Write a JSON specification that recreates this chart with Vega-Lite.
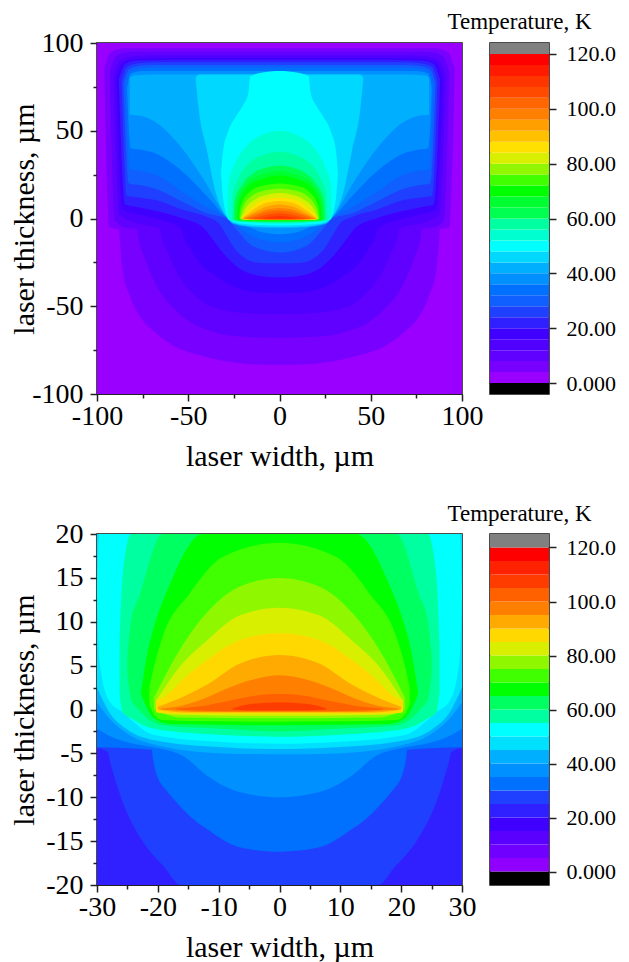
{"$schema":"https://vega.github.io/schema/vega-lite/v6.json","background":"white","padding":{"left":8,"top":10,"right":5,"bottom":5},"bounds":"flush","columns":2,"spacing":{"row":140,"column":28},"resolve":{"scale":{"color":"independent"}},
"config":{"view":{"stroke":"#111","strokeWidth":1.5},"axis":{"labelFont":"Liberation Serif","titleFont":"Liberation Serif","labelColor":"#000","titleColor":"#000","titleFontWeight":"normal","tickColor":"#222","domainColor":"#222","grid":false,"zindex":1}},
"datasets":{"a":[
{"l":0,"x":-100,"y":100,"v":-100},{"l":0,"x":100,"y":100,"v":-100},
{"l":4,"x":-96,"y":85,"v":85},{"l":4,"x":-93,"y":94,"v":-5},{"l":4,"x":-88,"y":96.5,"v":-6},{"l":4,"x":-87.5,"y":96.6,"v":-12},{"l":4,"x":-86,"y":97,"v":-29},{"l":4,"x":-82,"y":97,"v":-44},{"l":4,"x":-77,"y":97,"v":-55},{"l":4,"x":-68,"y":97,"v":-65},{"l":4,"x":-58,"y":97,"v":-72.6},{"l":4,"x":-45,"y":97,"v":-77.5},{"l":4,"x":-31,"y":97,"v":-81},{"l":4,"x":-15,"y":97,"v":-83},{"l":4,"x":0,"y":97,"v":-83.4},{"l":4,"x":15,"y":97,"v":-83},{"l":4,"x":31,"y":97,"v":-81},{"l":4,"x":45,"y":97,"v":-77.5},{"l":4,"x":58,"y":97,"v":-72.6},{"l":4,"x":68,"y":97,"v":-65},{"l":4,"x":77,"y":97,"v":-55},{"l":4,"x":82,"y":97,"v":-44},{"l":4,"x":86,"y":97,"v":-29},{"l":4,"x":87.5,"y":96.6,"v":-12},{"l":4,"x":88,"y":96.5,"v":-6},{"l":4,"x":93,"y":94,"v":-5},{"l":4,"x":96,"y":85,"v":85},
{"l":8,"x":-93,"y":83,"v":83},{"l":8,"x":-90,"y":92,"v":-1},{"l":8,"x":-85,"y":94.5,"v":-5},{"l":8,"x":-78,"y":95,"v":-6},{"l":8,"x":-77.5,"y":95,"v":-10},{"l":8,"x":-74,"y":95,"v":-22},{"l":8,"x":-67.6,"y":95,"v":-38},{"l":8,"x":-59,"y":95,"v":-50},{"l":8,"x":-49,"y":95,"v":-59},{"l":8,"x":-38,"y":95,"v":-64},{"l":8,"x":-25.6,"y":95,"v":-67},{"l":8,"x":0,"y":95,"v":-68},{"l":8,"x":25.6,"y":95,"v":-67},{"l":8,"x":38,"y":95,"v":-64},{"l":8,"x":49,"y":95,"v":-59},{"l":8,"x":59,"y":95,"v":-50},{"l":8,"x":67.6,"y":95,"v":-38},{"l":8,"x":74,"y":95,"v":-22},{"l":8,"x":77.5,"y":95,"v":-10},{"l":8,"x":78,"y":95,"v":-6},{"l":8,"x":85,"y":94.5,"v":-5},{"l":8,"x":90,"y":92,"v":-1},{"l":8,"x":93,"y":83,"v":83},
{"l":12,"x":-91,"y":81,"v":81},{"l":12,"x":-87.5,"y":90,"v":2},{"l":12,"x":-80,"y":92.5,"v":-2},{"l":12,"x":-65.5,"y":93,"v":-6},{"l":12,"x":-65,"y":93,"v":-9},{"l":12,"x":-61,"y":93,"v":-20},{"l":12,"x":-55,"y":93,"v":-33},{"l":12,"x":-47,"y":93,"v":-43},{"l":12,"x":-38,"y":93,"v":-50},{"l":12,"x":-18,"y":93,"v":-54},{"l":12,"x":0,"y":93,"v":-54.5},{"l":12,"x":18,"y":93,"v":-54},{"l":12,"x":38,"y":93,"v":-50},{"l":12,"x":47,"y":93,"v":-43},{"l":12,"x":55,"y":93,"v":-33},{"l":12,"x":61,"y":93,"v":-20},{"l":12,"x":65,"y":93,"v":-9},{"l":12,"x":65.5,"y":93,"v":-6},{"l":12,"x":80,"y":92.5,"v":-2},{"l":12,"x":87.5,"y":90,"v":2},{"l":12,"x":91,"y":81,"v":81},
{"l":16,"x":-89.5,"y":80,"v":80},{"l":16,"x":-86,"y":89,"v":5},{"l":16,"x":-78,"y":91,"v":2.5},{"l":16,"x":-53.5,"y":91.5,"v":-6},{"l":16,"x":-53,"y":91.5,"v":-9},{"l":16,"x":-49,"y":91.5,"v":-17},{"l":16,"x":-44,"y":91.5,"v":-25},{"l":16,"x":-36,"y":91.5,"v":-32},{"l":16,"x":-27,"y":91.5,"v":-38},{"l":16,"x":-13,"y":91.5,"v":-42},{"l":16,"x":0,"y":91.5,"v":-42.5},{"l":16,"x":13,"y":91.5,"v":-42},{"l":16,"x":27,"y":91.5,"v":-38},{"l":16,"x":36,"y":91.5,"v":-32},{"l":16,"x":44,"y":91.5,"v":-25},{"l":16,"x":49,"y":91.5,"v":-17},{"l":16,"x":53,"y":91.5,"v":-9},{"l":16,"x":53.5,"y":91.5,"v":-6},{"l":16,"x":78,"y":91,"v":2.5},{"l":16,"x":86,"y":89,"v":5},{"l":16,"x":89.5,"y":80,"v":80},
{"l":20,"x":-88,"y":79,"v":79},{"l":20,"x":-84.5,"y":88,"v":8},{"l":20,"x":-78,"y":90,"v":6.5},{"l":20,"x":-53,"y":90.5,"v":0},{"l":20,"x":-42,"y":90.5,"v":-5},{"l":20,"x":-38,"y":90.5,"v":-10},{"l":20,"x":-33,"y":90.5,"v":-17},{"l":20,"x":-28,"y":90.5,"v":-23},{"l":20,"x":-22,"y":90.5,"v":-28.5},{"l":20,"x":-9,"y":90.5,"v":-33},{"l":20,"x":0,"y":90.5,"v":-33.6},{"l":20,"x":9,"y":90.5,"v":-33},{"l":20,"x":22,"y":90.5,"v":-28.5},{"l":20,"x":28,"y":90.5,"v":-23},{"l":20,"x":33,"y":90.5,"v":-17},{"l":20,"x":38,"y":90.5,"v":-10},{"l":20,"x":42,"y":90.5,"v":-5},{"l":20,"x":53,"y":90.5,"v":0},{"l":20,"x":78,"y":90,"v":6.5},{"l":20,"x":84.5,"y":88,"v":8},{"l":20,"x":88,"y":79,"v":79},
{"l":24,"x":-86.5,"y":78,"v":78},{"l":24,"x":-83.5,"y":86.5,"v":13},{"l":24,"x":-77,"y":88.5,"v":12},{"l":24,"x":-68,"y":89,"v":10.5},{"l":24,"x":-53,"y":89,"v":5},{"l":24,"x":-40,"y":89,"v":1},{"l":24,"x":-33,"y":89,"v":-3},{"l":24,"x":-30,"y":89,"v":-8},{"l":24,"x":-24,"y":89,"v":-18},{"l":24,"x":-19,"y":89,"v":-22.5},{"l":24,"x":-13,"y":89,"v":-25},{"l":24,"x":0,"y":89,"v":-25.5},{"l":24,"x":13,"y":89,"v":-25},{"l":24,"x":19,"y":89,"v":-22.5},{"l":24,"x":24,"y":89,"v":-18},{"l":24,"x":30,"y":89,"v":-8},{"l":24,"x":33,"y":89,"v":-3},{"l":24,"x":40,"y":89,"v":1},{"l":24,"x":53,"y":89,"v":5},{"l":24,"x":68,"y":89,"v":10.5},{"l":24,"x":77,"y":88.5,"v":12},{"l":24,"x":83.5,"y":86.5,"v":13},{"l":24,"x":86.5,"y":78,"v":78},
{"l":28,"x":-85.5,"y":77,"v":77},{"l":28,"x":-82.5,"y":85,"v":20},{"l":28,"x":-76,"y":87,"v":19},{"l":28,"x":-68,"y":87.5,"v":17},{"l":28,"x":-53,"y":87.5,"v":9.5},{"l":28,"x":-40,"y":87.5,"v":3},{"l":28,"x":-29,"y":87.5,"v":0},{"l":28,"x":-23,"y":87.5,"v":-7},{"l":28,"x":-15,"y":87.5,"v":-15.5},{"l":28,"x":0,"y":87.5,"v":-19.4},{"l":28,"x":15,"y":87.5,"v":-15.5},{"l":28,"x":23,"y":87.5,"v":-7},{"l":28,"x":29,"y":87.5,"v":0},{"l":28,"x":40,"y":87.5,"v":3},{"l":28,"x":53,"y":87.5,"v":9.5},{"l":28,"x":68,"y":87.5,"v":17},{"l":28,"x":76,"y":87,"v":19},{"l":28,"x":82.5,"y":85,"v":20},{"l":28,"x":85.5,"y":77,"v":77},
{"l":32,"x":-84.5,"y":76,"v":76},{"l":32,"x":-82,"y":83.5,"v":28},{"l":32,"x":-76,"y":85.5,"v":27},{"l":32,"x":-68,"y":86,"v":25},{"l":32,"x":-53,"y":86,"v":15},{"l":32,"x":-40,"y":86,"v":6.5},{"l":32,"x":-29,"y":86,"v":0.5},{"l":32,"x":-21,"y":86,"v":-6},{"l":32,"x":-13,"y":86,"v":-11},{"l":32,"x":0,"y":86,"v":-13.7},{"l":32,"x":13,"y":86,"v":-11},{"l":32,"x":21,"y":86,"v":-6},{"l":32,"x":29,"y":86,"v":0.5},{"l":32,"x":40,"y":86,"v":6.5},{"l":32,"x":53,"y":86,"v":15},{"l":32,"x":68,"y":86,"v":25},{"l":32,"x":76,"y":85.5,"v":27},{"l":32,"x":82,"y":83.5,"v":28},{"l":32,"x":84.5,"y":76,"v":76},
{"l":36,"x":-83.5,"y":74,"v":74},{"l":36,"x":-81.5,"y":82.5,"v":40},{"l":36,"x":-75,"y":84,"v":39},{"l":36,"x":-68,"y":84,"v":37},{"l":36,"x":-53,"y":84,"v":26.5},{"l":36,"x":-40,"y":84,"v":13},{"l":36,"x":-29,"y":84,"v":0.7},{"l":36,"x":-16.5,"y":84,"v":-5},{"l":36,"x":-9,"y":84,"v":-8},{"l":36,"x":0,"y":84,"v":-9},{"l":36,"x":9,"y":84,"v":-8},{"l":36,"x":16.5,"y":84,"v":-5},{"l":36,"x":29,"y":84,"v":0.7},{"l":36,"x":40,"y":84,"v":13},{"l":36,"x":53,"y":84,"v":26.5},{"l":36,"x":68,"y":84,"v":37},{"l":36,"x":75,"y":84,"v":39},{"l":36,"x":81.5,"y":82.5,"v":40},{"l":36,"x":83.5,"y":74,"v":74},
{"l":40,"x":-82,"y":80,"v":59},{"l":40,"x":-80,"y":81.5,"v":59},{"l":40,"x":-68,"y":82,"v":55},{"l":40,"x":-55,"y":82,"v":42},{"l":40,"x":-42,"y":82,"v":23},{"l":40,"x":-29,"y":82,"v":1},{"l":40,"x":-25.6,"y":82,"v":-3},{"l":40,"x":-13,"y":82,"v":-5},{"l":40,"x":0,"y":82,"v":-5.5},{"l":40,"x":13,"y":82,"v":-5},{"l":40,"x":25.6,"y":82,"v":-3},{"l":40,"x":29,"y":82,"v":1},{"l":40,"x":42,"y":82,"v":23},{"l":40,"x":55,"y":82,"v":42},{"l":40,"x":68,"y":82,"v":55},{"l":40,"x":80,"y":81.5,"v":59},{"l":40,"x":82,"y":80,"v":59},
{"l":44,"x":-46,"y":80,"v":80},{"l":44,"x":-44,"y":82,"v":60},{"l":44,"x":-40,"y":82,"v":40},{"l":44,"x":-35,"y":82,"v":15},{"l":44,"x":-29,"y":82,"v":1},{"l":44,"x":-25,"y":82,"v":-2.5},{"l":44,"x":-13,"y":82,"v":-4.5},{"l":44,"x":0,"y":82,"v":-4.8},{"l":44,"x":13,"y":82,"v":-4.5},{"l":44,"x":25,"y":82,"v":-2.5},{"l":44,"x":29,"y":82,"v":1},{"l":44,"x":35,"y":82,"v":15},{"l":44,"x":40,"y":82,"v":40},{"l":44,"x":44,"y":82,"v":60},{"l":44,"x":46,"y":80,"v":80},
{"l":48,"x":-32,"y":26,"v":26},{"l":48,"x":-31,"y":38,"v":12},{"l":48,"x":-28,"y":50,"v":0},{"l":48,"x":-24,"y":58,"v":-2.4},{"l":48,"x":-20,"y":64.5,"v":-3},{"l":48,"x":-17,"y":72,"v":-3.3},{"l":48,"x":-16,"y":81,"v":-3.4},{"l":48,"x":-10,"y":83,"v":-3.7},{"l":48,"x":0,"y":84,"v":-4},{"l":48,"x":10,"y":83,"v":-3.7},{"l":48,"x":16,"y":81,"v":-3.4},{"l":48,"x":17,"y":72,"v":-3.3},{"l":48,"x":20,"y":64.5,"v":-3},{"l":48,"x":24,"y":58,"v":-2.4},{"l":48,"x":28,"y":50,"v":0},{"l":48,"x":31,"y":38,"v":12},{"l":48,"x":32,"y":26,"v":26},
{"l":52,"x":-28.5,"y":5,"v":0},{"l":52,"x":-28,"y":20,"v":-0.5},{"l":52,"x":-25,"y":30,"v":-1.5},{"l":52,"x":-20,"y":39,"v":-2},{"l":52,"x":-10,"y":47.5,"v":-2.7},{"l":52,"x":0,"y":50,"v":-3},{"l":52,"x":10,"y":47.5,"v":-2.7},{"l":52,"x":20,"y":39,"v":-2},{"l":52,"x":25,"y":30,"v":-1.5},{"l":52,"x":28,"y":20,"v":-0.5},{"l":52,"x":28.5,"y":5,"v":0},
{"l":56,"x":-26,"y":2,"v":0},{"l":56,"x":-25.5,"y":14,"v":-1},{"l":56,"x":-22,"y":24,"v":-1.7},{"l":56,"x":-16,"y":32,"v":-2},{"l":56,"x":-8,"y":36.5,"v":-2.4},{"l":56,"x":0,"y":38,"v":-2.5},{"l":56,"x":8,"y":36.5,"v":-2.4},{"l":56,"x":16,"y":32,"v":-2},{"l":56,"x":22,"y":24,"v":-1.7},{"l":56,"x":25.5,"y":14,"v":-1},{"l":56,"x":26,"y":2,"v":0},
{"l":60,"x":-25,"y":1,"v":0},{"l":60,"x":-24.5,"y":10,"v":-0.8},{"l":60,"x":-20,"y":20,"v":-1.5},{"l":60,"x":-14,"y":26,"v":-1.8},{"l":60,"x":-7,"y":29,"v":-2},{"l":60,"x":0,"y":30,"v":-2},{"l":60,"x":7,"y":29,"v":-2},{"l":60,"x":14,"y":26,"v":-1.8},{"l":60,"x":20,"y":20,"v":-1.5},{"l":60,"x":24.5,"y":10,"v":-0.8},{"l":60,"x":25,"y":1,"v":0},
{"l":64,"x":-24,"y":0.5,"v":0},{"l":64,"x":-23.5,"y":9,"v":-0.7},{"l":64,"x":-18,"y":20,"v":-1.3},{"l":64,"x":-12,"y":24,"v":-1.4},{"l":64,"x":-6,"y":26,"v":-1.5},{"l":64,"x":0,"y":27,"v":-1.5},{"l":64,"x":6,"y":26,"v":-1.5},{"l":64,"x":12,"y":24,"v":-1.4},{"l":64,"x":18,"y":20,"v":-1.3},{"l":64,"x":23.5,"y":9,"v":-0.7},{"l":64,"x":24,"y":0.5,"v":0},
{"l":68,"x":-23,"y":0.5,"v":-0.2},{"l":68,"x":-22.5,"y":8,"v":-0.6},{"l":68,"x":-17,"y":18.5,"v":-1.1},{"l":68,"x":-11,"y":22,"v":-1.2},{"l":68,"x":-5,"y":24,"v":-1.2},{"l":68,"x":0,"y":24.5,"v":-1.2},{"l":68,"x":5,"y":24,"v":-1.2},{"l":68,"x":11,"y":22,"v":-1.2},{"l":68,"x":17,"y":18.5,"v":-1.1},{"l":68,"x":22.5,"y":8,"v":-0.6},{"l":68,"x":23,"y":0.5,"v":-0.2},
{"l":72,"x":-22,"y":0.5,"v":-0.2},{"l":72,"x":-21.5,"y":6,"v":-0.6},{"l":72,"x":-16,"y":15.5,"v":-1},{"l":72,"x":-10,"y":18.5,"v":-1},{"l":72,"x":0,"y":20,"v":-1},{"l":72,"x":10,"y":18.5,"v":-1},{"l":72,"x":16,"y":15.5,"v":-1},{"l":72,"x":21.5,"y":6,"v":-0.6},{"l":72,"x":22,"y":0.5,"v":-0.2},
{"l":76,"x":-21.5,"y":0.5,"v":-0.2},{"l":76,"x":-20.5,"y":5,"v":-0.6},{"l":76,"x":-15,"y":13,"v":-0.9},{"l":76,"x":-8,"y":16,"v":-0.9},{"l":76,"x":0,"y":17,"v":-0.9},{"l":76,"x":8,"y":16,"v":-0.9},{"l":76,"x":15,"y":13,"v":-0.9},{"l":76,"x":20.5,"y":5,"v":-0.6},{"l":76,"x":21.5,"y":0.5,"v":-0.2},
{"l":80,"x":-21,"y":0.3,"v":-0.2},{"l":80,"x":-19,"y":5,"v":-0.7},{"l":80,"x":-13,"y":11,"v":-0.8},{"l":80,"x":-7,"y":13.5,"v":-0.8},{"l":80,"x":0,"y":14.5,"v":-0.8},{"l":80,"x":7,"y":13.5,"v":-0.8},{"l":80,"x":13,"y":11,"v":-0.8},{"l":80,"x":19,"y":5,"v":-0.7},{"l":80,"x":21,"y":0.3,"v":-0.2},
{"l":84,"x":-20.5,"y":0.2,"v":-0.3},{"l":84,"x":-17,"y":4.5,"v":-0.7},{"l":84,"x":-11,"y":9.5,"v":-0.7},{"l":84,"x":-6,"y":11.2,"v":-0.7},{"l":84,"x":0,"y":12,"v":-0.7},{"l":84,"x":6,"y":11.2,"v":-0.7},{"l":84,"x":11,"y":9.5,"v":-0.7},{"l":84,"x":17,"y":4.5,"v":-0.7},{"l":84,"x":20.5,"y":0.2,"v":-0.3},
{"l":88,"x":-20.5,"y":0.1,"v":-0.3},{"l":88,"x":-15,"y":4.5,"v":-0.6},{"l":88,"x":-9,"y":8.3,"v":-0.6},{"l":88,"x":-5,"y":9.4,"v":-0.6},{"l":88,"x":0,"y":10,"v":-0.6},{"l":88,"x":5,"y":9.4,"v":-0.6},{"l":88,"x":9,"y":8.3,"v":-0.6},{"l":88,"x":15,"y":4.5,"v":-0.6},{"l":88,"x":20.5,"y":0.1,"v":-0.3},
{"l":92,"x":-20,"y":0.1,"v":-0.3},{"l":92,"x":-13,"y":4,"v":-0.6},{"l":92,"x":-8,"y":6.5,"v":-0.6},{"l":92,"x":0,"y":8,"v":-0.6},{"l":92,"x":8,"y":6.5,"v":-0.6},{"l":92,"x":13,"y":4,"v":-0.6},{"l":92,"x":20,"y":0.1,"v":-0.3},
{"l":96,"x":-19,"y":0.1,"v":-0.3},{"l":96,"x":-11,"y":3.6,"v":-0.5},{"l":96,"x":-6,"y":5.2,"v":-0.5},{"l":96,"x":0,"y":6,"v":-0.5},{"l":96,"x":6,"y":5.2,"v":-0.5},{"l":96,"x":11,"y":3.6,"v":-0.5},{"l":96,"x":19,"y":0.1,"v":-0.3},
{"l":100,"x":-17,"y":0.1,"v":-0.3},{"l":100,"x":-9,"y":3,"v":-0.5},{"l":100,"x":-5,"y":4,"v":-0.5},{"l":100,"x":0,"y":4.5,"v":-0.5},{"l":100,"x":5,"y":4,"v":-0.5},{"l":100,"x":9,"y":3,"v":-0.5},{"l":100,"x":17,"y":0.1,"v":-0.3},
{"l":104,"x":-14,"y":0.1,"v":-0.3},{"l":104,"x":-7,"y":2,"v":-0.4},{"l":104,"x":0,"y":3,"v":-0.4},{"l":104,"x":7,"y":2,"v":-0.4},{"l":104,"x":14,"y":0.1,"v":-0.3},
{"l":108,"x":-9,"y":0.1,"v":-0.2},{"l":108,"x":-4,"y":1.1,"v":-0.3},{"l":108,"x":0,"y":1.5,"v":-0.3},{"l":108,"x":4,"y":1.1,"v":-0.3},{"l":108,"x":9,"y":0.1,"v":-0.2}
],
"b":[
{"l":20,"x":-30,"y":20,"v":-20},{"l":20,"x":30,"y":20,"v":-20},
{"l":25,"x":-30,"y":20,"v":-4.4},{"l":25,"x":-28.2,"y":20,"v":-4.9},{"l":25,"x":-28,"y":20,"v":-5.5},{"l":25,"x":-27,"y":20,"v":-8},{"l":25,"x":-25.8,"y":20,"v":-10.5},{"l":25,"x":-22.5,"y":20,"v":-15},{"l":25,"x":-19,"y":20,"v":-17.9},{"l":25,"x":-16.2,"y":20,"v":-20},{"l":25,"x":16.2,"y":20,"v":-20},{"l":25,"x":19,"y":20,"v":-17.9},{"l":25,"x":22.5,"y":20,"v":-15},{"l":25,"x":25.8,"y":20,"v":-10.5},{"l":25,"x":27,"y":20,"v":-8},{"l":25,"x":28,"y":20,"v":-5.5},{"l":25,"x":28.2,"y":20,"v":-4.9},{"l":25,"x":30,"y":20,"v":-4.4},
{"l":30,"x":-30,"y":20,"v":-4.3},{"l":30,"x":-21,"y":20,"v":-4.6},{"l":30,"x":-20.8,"y":20,"v":-5.6},{"l":30,"x":-20.3,"y":20,"v":-7.2},{"l":30,"x":-18.5,"y":20,"v":-9.3},{"l":30,"x":-16.5,"y":20,"v":-10.9},{"l":30,"x":-14,"y":20,"v":-12.6},{"l":30,"x":-12,"y":20,"v":-13.6},{"l":30,"x":-6.6,"y":20,"v":-15.7},{"l":30,"x":0,"y":20,"v":-16.2},{"l":30,"x":6.6,"y":20,"v":-15.7},{"l":30,"x":12,"y":20,"v":-13.6},{"l":30,"x":14,"y":20,"v":-12.6},{"l":30,"x":16.5,"y":20,"v":-10.9},{"l":30,"x":18.5,"y":20,"v":-9.3},{"l":30,"x":20.3,"y":20,"v":-7.2},{"l":30,"x":20.8,"y":20,"v":-5.6},{"l":30,"x":21,"y":20,"v":-4.6},{"l":30,"x":30,"y":20,"v":-4.3},
{"l":35,"x":-30,"y":20,"v":-2.2},{"l":35,"x":-28,"y":20,"v":-3},{"l":35,"x":-24,"y":20,"v":-3.9},{"l":35,"x":-20.8,"y":20,"v":-4.3},{"l":35,"x":-15.6,"y":20,"v":-5.4},{"l":35,"x":-12,"y":20,"v":-7.5},{"l":35,"x":-6.6,"y":20,"v":-9.4},{"l":35,"x":0,"y":20,"v":-10},{"l":35,"x":6.6,"y":20,"v":-9.4},{"l":35,"x":12,"y":20,"v":-7.5},{"l":35,"x":15.6,"y":20,"v":-5.4},{"l":35,"x":20.8,"y":20,"v":-4.3},{"l":35,"x":24,"y":20,"v":-3.9},{"l":35,"x":28,"y":20,"v":-3},{"l":35,"x":30,"y":20,"v":-2.2},
{"l":40,"x":-30,"y":20,"v":0.8},{"l":40,"x":-28,"y":20,"v":-1},{"l":40,"x":-24.7,"y":20,"v":-2.9},{"l":40,"x":-20.6,"y":20,"v":-4},{"l":40,"x":-9.3,"y":20,"v":-5},{"l":40,"x":0,"y":20,"v":-5.1},{"l":40,"x":9.3,"y":20,"v":-5},{"l":40,"x":20.6,"y":20,"v":-4},{"l":40,"x":24.7,"y":20,"v":-2.9},{"l":40,"x":28,"y":20,"v":-1},{"l":40,"x":30,"y":20,"v":0.8},
{"l":45,"x":-30,"y":20,"v":2.5},{"l":45,"x":-28,"y":20,"v":-0.3},{"l":45,"x":-25.2,"y":20,"v":-2.2},{"l":45,"x":-20.6,"y":20,"v":-3.5},{"l":45,"x":-9.3,"y":20,"v":-4.3},{"l":45,"x":0,"y":20,"v":-4.5},{"l":45,"x":9.3,"y":20,"v":-4.3},{"l":45,"x":20.6,"y":20,"v":-3.5},{"l":45,"x":25.2,"y":20,"v":-2.2},{"l":45,"x":28,"y":20,"v":-0.3},{"l":45,"x":30,"y":20,"v":2.5},
{"l":50,"x":-30,"y":13.5,"v":13.5},{"l":50,"x":-29.6,"y":20,"v":5.6},{"l":50,"x":-28,"y":20,"v":1},{"l":50,"x":-25.8,"y":20,"v":-0.3},{"l":50,"x":-20.6,"y":20,"v":-2.9},{"l":50,"x":-9.3,"y":20,"v":-3.7},{"l":50,"x":0,"y":20,"v":-3.9},{"l":50,"x":9.3,"y":20,"v":-3.7},{"l":50,"x":20.6,"y":20,"v":-2.9},{"l":50,"x":25.8,"y":20,"v":-0.3},{"l":50,"x":28,"y":20,"v":1},{"l":50,"x":29.6,"y":20,"v":5.6},{"l":50,"x":30,"y":13.5,"v":13.5},
{"l":55,"x":-26.3,"y":7.5,"v":2},{"l":55,"x":-25.8,"y":15,"v":-0.3},{"l":55,"x":-24.4,"y":20,"v":-1},{"l":55,"x":-20.6,"y":20,"v":-2.2},{"l":55,"x":-9.3,"y":20,"v":-2.9},{"l":55,"x":0,"y":20,"v":-3.1},{"l":55,"x":9.3,"y":20,"v":-2.9},{"l":55,"x":20.6,"y":20,"v":-2.2},{"l":55,"x":24.4,"y":20,"v":-1},{"l":55,"x":25.8,"y":15,"v":-0.3},{"l":55,"x":26.3,"y":7.5,"v":2},
{"l":60,"x":-25,"y":6,"v":4},{"l":60,"x":-24.4,"y":10,"v":1.2},{"l":60,"x":-23,"y":13,"v":-0.1},{"l":60,"x":-19.2,"y":20,"v":-1.8},{"l":60,"x":-9.3,"y":20,"v":-2.2},{"l":60,"x":0,"y":20,"v":-2.5},{"l":60,"x":9.3,"y":20,"v":-2.2},{"l":60,"x":19.2,"y":20,"v":-1.8},{"l":60,"x":23,"y":13,"v":-0.1},{"l":60,"x":24.4,"y":10,"v":1.2},{"l":60,"x":25,"y":6,"v":4},
{"l":65,"x":-22.8,"y":1.8,"v":1.8},{"l":65,"x":-21.4,"y":7.5,"v":-0.3},{"l":65,"x":-20.6,"y":9.5,"v":-1},{"l":65,"x":-18,"y":14.3,"v":-1.65},{"l":65,"x":-12.6,"y":20,"v":-1.7},{"l":65,"x":0,"y":20,"v":-1.8},{"l":65,"x":12.6,"y":20,"v":-1.7},{"l":65,"x":18,"y":14.3,"v":-1.65},{"l":65,"x":20.6,"y":9.5,"v":-1},{"l":65,"x":21.4,"y":7.5,"v":-0.3},{"l":65,"x":22.8,"y":1.8,"v":1.8},
{"l":70,"x":-21.4,"y":2.5,"v":0.6},{"l":70,"x":-20.6,"y":5,"v":-0.6},{"l":70,"x":-19.2,"y":8.3,"v":-1.2},{"l":70,"x":-14.8,"y":13.2,"v":-1.3},{"l":70,"x":-9.3,"y":17.4,"v":-1.35},{"l":70,"x":0,"y":19,"v":-1.4},{"l":70,"x":9.3,"y":17.4,"v":-1.35},{"l":70,"x":14.8,"y":13.2,"v":-1.3},{"l":70,"x":19.2,"y":8.3,"v":-1.2},{"l":70,"x":20.6,"y":5,"v":-0.6},{"l":70,"x":21.4,"y":2.5,"v":0.6},
{"l":75,"x":-20.6,"y":1.4,"v":0},{"l":75,"x":-16.5,"y":6.7,"v":-0.9},{"l":75,"x":-12,"y":11,"v":-0.95},{"l":75,"x":-6.6,"y":14,"v":-1},{"l":75,"x":0,"y":15,"v":-1},{"l":75,"x":6.6,"y":14,"v":-1},{"l":75,"x":12,"y":11,"v":-0.95},{"l":75,"x":16.5,"y":6.7,"v":-0.9},{"l":75,"x":20.6,"y":1.4,"v":0},
{"l":80,"x":-20.3,"y":1,"v":-0.3},{"l":80,"x":-16.5,"y":4.8,"v":-0.6},{"l":80,"x":-12,"y":7.8,"v":-0.65},{"l":80,"x":-6.6,"y":10.7,"v":-0.7},{"l":80,"x":0,"y":11.6,"v":-0.7},{"l":80,"x":6.6,"y":10.7,"v":-0.7},{"l":80,"x":12,"y":7.8,"v":-0.65},{"l":80,"x":16.5,"y":4.8,"v":-0.6},{"l":80,"x":20.3,"y":1,"v":-0.3},
{"l":85,"x":-20.3,"y":1,"v":-0.2},{"l":85,"x":-19.5,"y":1.2,"v":-0.4},{"l":85,"x":-15.9,"y":3.4,"v":-0.45},{"l":85,"x":-12,"y":5.6,"v":-0.45},{"l":85,"x":-6.6,"y":7.9,"v":-0.45},{"l":85,"x":0,"y":8.7,"v":-0.45},{"l":85,"x":6.6,"y":7.9,"v":-0.45},{"l":85,"x":12,"y":5.6,"v":-0.45},{"l":85,"x":15.9,"y":3.4,"v":-0.45},{"l":85,"x":19.5,"y":1.2,"v":-0.4},{"l":85,"x":20.3,"y":1,"v":-0.2},
{"l":90,"x":-20,"y":0.3,"v":0},{"l":90,"x":-15.4,"y":1.6,"v":-0.35},{"l":90,"x":-11.5,"y":3,"v":-0.35},{"l":90,"x":-6.6,"y":5.2,"v":-0.35},{"l":90,"x":0,"y":6.2,"v":-0.35},{"l":90,"x":6.6,"y":5.2,"v":-0.35},{"l":90,"x":11.5,"y":3,"v":-0.35},{"l":90,"x":15.4,"y":1.6,"v":-0.35},{"l":90,"x":20,"y":0.3,"v":0},
{"l":95,"x":-19.5,"y":0.1,"v":0},{"l":95,"x":-17,"y":0.3,"v":-0.1},{"l":95,"x":-12.6,"y":1.2,"v":-0.27},{"l":95,"x":-9.3,"y":2.2,"v":-0.27},{"l":95,"x":-5,"y":3.3,"v":-0.27},{"l":95,"x":0,"y":3.9,"v":-0.27},{"l":95,"x":5,"y":3.3,"v":-0.27},{"l":95,"x":9.3,"y":2.2,"v":-0.27},{"l":95,"x":12.6,"y":1.2,"v":-0.27},{"l":95,"x":17,"y":0.3,"v":-0.1},{"l":95,"x":19.5,"y":0.1,"v":0},
{"l":100,"x":-17,"y":0.1,"v":0},{"l":100,"x":-13.7,"y":0.3,"v":-0.1},{"l":100,"x":-8.2,"y":1,"v":-0.2},{"l":100,"x":-3.8,"y":1.6,"v":-0.2},{"l":100,"x":0,"y":1.8,"v":-0.2},{"l":100,"x":3.8,"y":1.6,"v":-0.2},{"l":100,"x":8.2,"y":1,"v":-0.2},{"l":100,"x":13.7,"y":0.3,"v":-0.1},{"l":100,"x":17,"y":0.1,"v":0},
{"l":105,"x":-7.7,"y":0.1,"v":0},{"l":105,"x":-5,"y":0.6,"v":-0.1},{"l":105,"x":0,"y":0.8,"v":-0.1},{"l":105,"x":5,"y":0.6,"v":-0.1},{"l":105,"x":7.7,"y":0.1,"v":0}
],
"ca":[{"l":-4,"h":0},{"l":0,"h":4},{"l":4,"h":8},{"l":8,"h":12},{"l":12,"h":16},{"l":16,"h":20},{"l":20,"h":24},{"l":24,"h":28},{"l":28,"h":32},{"l":32,"h":36},{"l":36,"h":40},{"l":40,"h":44},{"l":44,"h":48},{"l":48,"h":52},{"l":52,"h":56},{"l":56,"h":60},{"l":60,"h":64},{"l":64,"h":68},{"l":68,"h":72},{"l":72,"h":76},{"l":76,"h":80},{"l":80,"h":84},{"l":84,"h":88},{"l":88,"h":92},{"l":92,"h":96},{"l":96,"h":100},{"l":100,"h":104},{"l":104,"h":108},{"l":108,"h":112},{"l":112,"h":116},{"l":116,"h":120},{"l":120,"h":124}],
"cb":[{"l":-5,"h":0},{"l":0,"h":5},{"l":5,"h":10},{"l":10,"h":15},{"l":15,"h":20},{"l":20,"h":25},{"l":25,"h":30},{"l":30,"h":35},{"l":35,"h":40},{"l":40,"h":45},{"l":45,"h":50},{"l":50,"h":55},{"l":55,"h":60},{"l":60,"h":65},{"l":65,"h":70},{"l":70,"h":75},{"l":75,"h":80},{"l":80,"h":85},{"l":85,"h":90},{"l":90,"h":95},{"l":95,"h":100},{"l":100,"h":105},{"l":105,"h":110},{"l":110,"h":115},{"l":115,"h":120},{"l":120,"h":125}],
"one":[{"x":0,"y":0}]
},
"concat":[
{"width":365,"height":351,"resolve":{"axis":{"x":"independent","y":"independent"}},"layer":[
{"data":{"name":"a"},"mark":{"type":"area","interpolate":"monotone"},"encoding":{
"x":{"field":"x","type":"quantitative","scale":{"domain":[-100,100],"nice":false},"axis":{"orient":"bottom","values":[-100,-50,0,50,100],"title":"laser width, µm","labelFontSize":28,"titleFontSize":30,"tickSize":7,"tickWidth":1.5,"labelPadding":1,"titlePadding":11,"labelExpr":"datum.value+''","labelFlush":false,"labelOverlap":false}},
"y":{"field":"y","type":"quantitative","scale":{"domain":[-100,100],"nice":false},"axis":{"orient":"left","values":[-100,-50,0,50,100],"title":"laser thickness, µm","labelFontSize":28,"titleFontSize":30,"tickSize":7,"tickWidth":1.5,"labelPadding":7,"titlePadding":-7.5,"labelExpr":"datum.value+''","labelOverlap":false}},
"y2":{"field":"v"},
"color":{"field":"l","type":"ordinal","legend":null,"scale":{"domain":[0,4,8,12,16,20,24,28,32,36,40,44,48,52,56,60,64,68,72,76,80,84,88,92,96,100,104,108,112,116],"range":["#9900ff","#7800ff","#6000ff","#5000ff","#4000ff","#3020ff","#2040ff","#1060ff","#0070ff","#0090ff","#00b0ff","#00d8ff","#00ffff","#00ffd0","#00ffa0","#00ff50","#00ff30","#00ff00","#40ff00","#90f700","#d8f000","#ffe000","#ffc000","#ff9f00","#ff8000","#ff6600","#ff4a00","#ff3500","#ff1a00","#ff0000"]}}}},
{"data":{"name":"one"},"mark":{"type":"point","opacity":0},"encoding":{
"x":{"field":"x","type":"quantitative","scale":{"domain":[-100,100],"nice":false},"axis":{"orient":"bottom","values":[-75,-25,25,75],"title":null,"labels":false,"domain":false,"tickSize":4,"tickWidth":1.5}},
"y":{"field":"y","type":"quantitative","scale":{"domain":[-100,100],"nice":false},"axis":{"orient":"left","values":[-75,-25,25,75],"title":null,"labels":false,"domain":false,"tickSize":4,"tickWidth":1.5}}}}
]},
{"width":59,"height":351,"data":{"name":"ca"},"title":{"text":"Temperature, K","font":"Liberation Serif","fontSize":23,"fontWeight":"normal","color":"#000","anchor":"middle","offset":8.5},"mark":"rect","encoding":{
"y":{"field":"l","type":"quantitative","scale":{"domain":[-4,124],"nice":false},"axis":{"orient":"right","values":[0,20,40,60,80,100,120],"title":null,"labelFontSize":22,"tickSize":7,"tickWidth":1.5,"labelPadding":10,"domain":false,"labelOverlap":false,"labelExpr":"datum.value==0?'0.000':datum.value>=100?format(datum.value,'.1f'):format(datum.value,'.2f')"}},
"y2":{"field":"h"},
"color":{"field":"l","type":"ordinal","legend":null,"scale":{"domain":[-4,0,4,8,12,16,20,24,28,32,36,40,44,48,52,56,60,64,68,72,76,80,84,88,92,96,100,104,108,112,116,120],"range":["#000000","#9900ff","#7800ff","#6000ff","#5000ff","#4000ff","#3020ff","#2040ff","#1060ff","#0070ff","#0090ff","#00b0ff","#00d8ff","#00ffff","#00ffd0","#00ffa0","#00ff50","#00ff30","#00ff00","#40ff00","#90f700","#d8f000","#ffe000","#ffc000","#ff9f00","#ff8000","#ff6600","#ff4a00","#ff3500","#ff1a00","#ff0000","#808080"]}}}},
{"width":365,"height":351,"resolve":{"axis":{"x":"independent","y":"independent"}},"layer":[
{"data":{"name":"b"},"mark":{"type":"area","interpolate":"monotone"},"encoding":{
"x":{"field":"x","type":"quantitative","scale":{"domain":[-30,30],"nice":false},"axis":{"orient":"bottom","values":[-30,-20,-10,0,10,20,30],"title":"laser width, µm","labelFontSize":28,"titleFontSize":30,"tickSize":7,"tickWidth":1.5,"labelPadding":1,"titlePadding":11,"labelExpr":"datum.value+''","labelFlush":false,"labelOverlap":false}},
"y":{"field":"y","type":"quantitative","scale":{"domain":[-20,20],"nice":false},"axis":{"orient":"left","values":[-20,-15,-10,-5,0,5,10,15,20],"title":"laser thickness, µm","labelFontSize":28,"titleFontSize":30,"tickSize":7,"tickWidth":1.5,"labelPadding":7,"titlePadding":6,"labelExpr":"datum.value+''","labelOverlap":false}},
"y2":{"field":"v"},
"color":{"field":"l","type":"ordinal","legend":null,"scale":{"domain":[0,5,10,15,20,25,30,35,40,45,50,55,60,65,70,75,80,85,90,95,100,105,110,115],"range":["#9000ff","#7000ff","#5a00ff","#4000ff","#3020ff","#2040ff","#0070ff","#0090ff","#00b0ff","#00e0ff","#00ffff","#00ffa0","#00ff60","#00ff00","#40ff00","#8ff700","#d8f000","#ffd800","#ffaa00","#ff8000","#ff6000","#ff3c00","#ff2200","#ff0000"]}}}},
{"data":{"name":"one"},"mark":{"type":"point","opacity":0},"encoding":{
"x":{"field":"x","type":"quantitative","scale":{"domain":[-30,30],"nice":false},"axis":{"orient":"bottom","values":[-25,-15,-5,5,15,25],"title":null,"labels":false,"domain":false,"tickSize":4,"tickWidth":1.5}},
"y":{"field":"y","type":"quantitative","scale":{"domain":[-20,20],"nice":false},"axis":{"orient":"left","values":[-17.5,-12.5,-7.5,-2.5,2.5,7.5,12.5,17.5],"title":null,"labels":false,"domain":false,"tickSize":4,"tickWidth":1.5}}}}
]},
{"width":59,"height":351,"data":{"name":"cb"},"title":{"text":"Temperature, K","font":"Liberation Serif","fontSize":23,"fontWeight":"normal","color":"#000","anchor":"middle","offset":8.5},"mark":"rect","encoding":{
"y":{"field":"l","type":"quantitative","scale":{"domain":[-5,125],"nice":false},"axis":{"orient":"right","values":[0,20,40,60,80,100,120],"title":null,"labelFontSize":22,"tickSize":7,"tickWidth":1.5,"labelPadding":10,"domain":false,"labelOverlap":false,"labelExpr":"datum.value==0?'0.000':datum.value>=100?format(datum.value,'.1f'):format(datum.value,'.2f')"}},
"y2":{"field":"h"},
"color":{"field":"l","type":"ordinal","legend":null,"scale":{"domain":[-5,0,5,10,15,20,25,30,35,40,45,50,55,60,65,70,75,80,85,90,95,100,105,110,115,120],"range":["#000000","#9000ff","#7000ff","#5a00ff","#4000ff","#3020ff","#2040ff","#0070ff","#0090ff","#00b0ff","#00e0ff","#00ffff","#00ffa0","#00ff60","#00ff00","#40ff00","#8ff700","#d8f000","#ffd800","#ffaa00","#ff8000","#ff6000","#ff3c00","#ff2200","#ff0000","#808080"]}}}}
]}
